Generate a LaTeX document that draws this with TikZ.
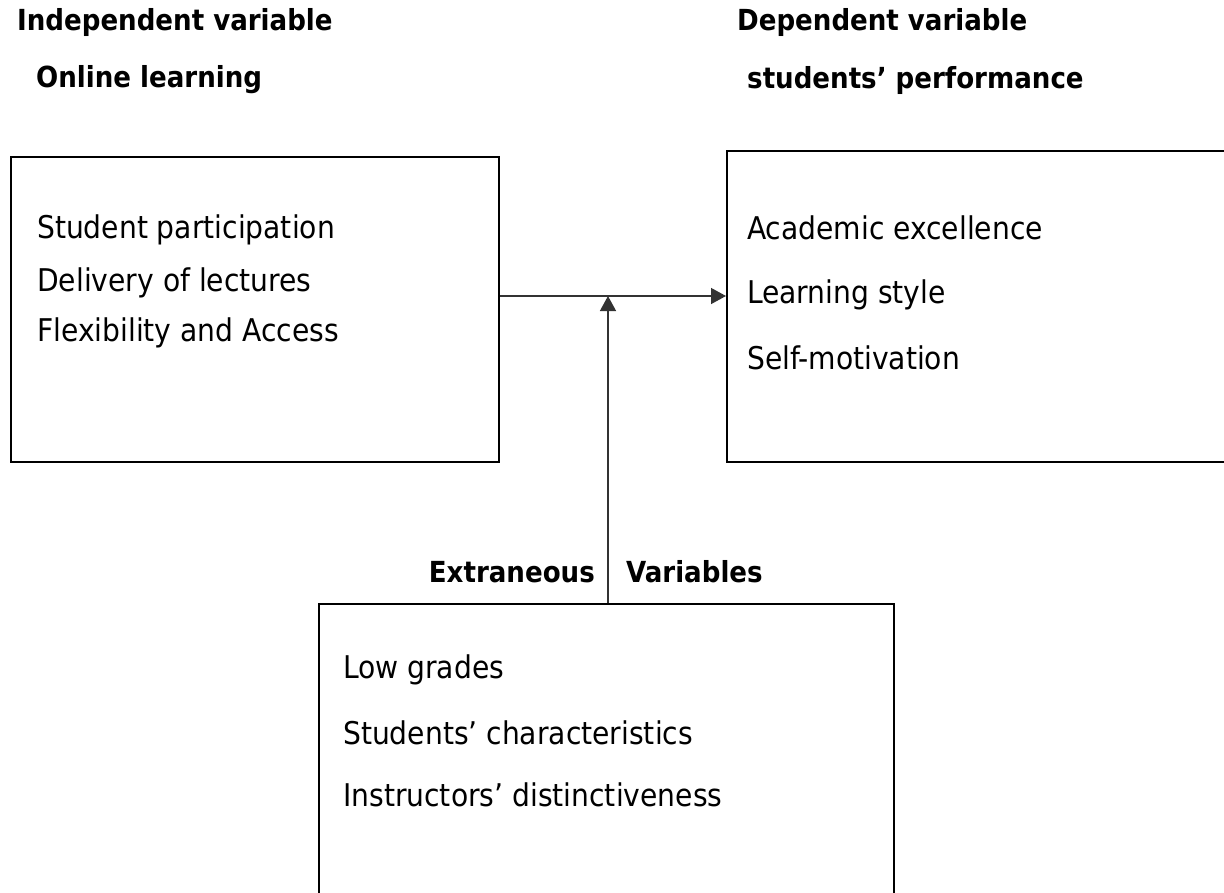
\documentclass[tikz,border=0pt]{standalone}
\usepackage{fontspec}
\setmainfont{DejaVu Sans Condensed}
\usetikzlibrary{arrows.meta}

\begin{document}
\begin{tikzpicture}[
    x=1pt,y=-1pt,
    font=\fontsize{31.3}{37}\selectfont,
    head/.style={font=\fontsize{29}{35}\selectfont\bfseries,inner sep=0pt},
    item/.style={anchor=west,inner sep=0pt},
    box/.style={draw,line width=2.3pt,anchor=north west,inner sep=0pt},
    arr/.style={-{Triangle[length=15pt,width=16pt]},line width=1.4pt,draw=black!80},
    ]
    \clip (0,0) rectangle (1224,892);
    \fill[white] (0,0) rectangle (1224,892);

    % headings
    \node[head,anchor=west] (indep) at (17,22) {Independent variable};
    \node[head,anchor=west] (onl)   at (36,80) {Online learning};
    \node[head,anchor=west] (dep)   at (737,22) {Dependent variable};
    \node[head,anchor=west] (perfh) at (747,80) {students’ performance};

    % boxes
    \node[box,minimum width=488pt,minimum height=305pt] (online) at (10,156) {};
    \node[box,minimum width=530pt,minimum height=311pt] (perf)   at (726,150) {};
    \node[box,minimum width=575pt,minimum height=330pt] (extra)  at (318,603) {};

    % box contents
    \node[item] (part) at (37,230) {Student participation};
    \node[item] (deli) at (37,283) {Delivery of lectures};
    \node[item] (flex) at (37,333) {Flexibility and Access};

    \node[item] (acad) at (747,228) {Academic excellence};
    \node[item] (lsty) at (747,295) {Learning style};
    \node[item] (self) at (747,358) {Self-motivation};

    \node[item] (low)  at (343,670) {Low grades};
    \node[item] (char) at (343,733) {Students’ characteristics};
    \node[item] (inst) at (343,795) {Instructors’ distinctiveness};

    % extraneous label
    \coordinate (mid) at (608,296);
    \node[head,anchor=east] (ext) at (595,572) {Extraneous};
    \node[head,anchor=west] (var) at (626,572) {Variables};

    % arrows
    \draw[arr] (online.east |- mid) -- (perf.west |- mid);
    \draw[arr] (mid |- extra.north) -- (mid);
\end{tikzpicture}
\end{document}
